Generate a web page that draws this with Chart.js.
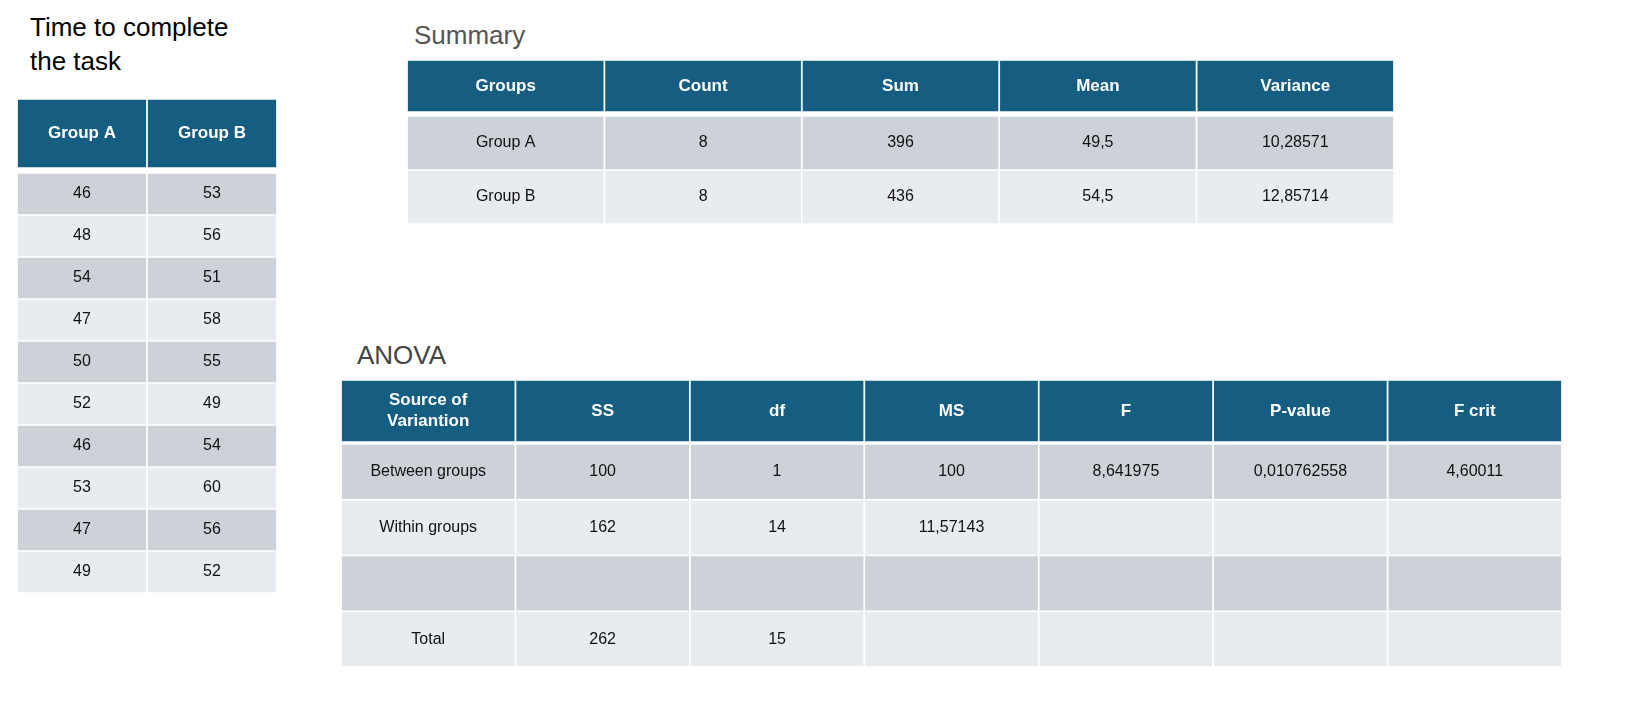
<!DOCTYPE html>
<html>
<head>
<meta charset="utf-8">
<script src="https://cdn.jsdelivr.net/npm/chart.js@4"></script>
<style>
  body { margin: 0; width: 1644px; height: 706px; background: #fff; position: relative; overflow: hidden;
         font-family: 'Liberation Sans', Arial, sans-serif; }
  .title { position: absolute; font-size: 26px; line-height: 34px; }
  canvas { position: absolute; }
</style>
</head>
<body>
<div class="title" style="left:30px;top:10px;color:#000">Time to complete<br>the task</div>
<div class="title" style="left:414px;top:18px;color:#555">Summary</div>
<div class="title" style="left:357px;top:338px;color:#444">ANOVA</div>

<canvas id="rawHead" style="left:17px;top:99px" width="260" height="69"></canvas>
<canvas id="rawBody" style="left:17px;top:173px" width="260" height="420"></canvas>
<canvas id="sumHead" style="left:407px;top:60px" width="987" height="52"></canvas>
<canvas id="sumBody" style="left:407px;top:116px" width="987" height="108"></canvas>
<canvas id="anoHead" style="left:341px;top:380px" width="1221" height="62"></canvas>
<canvas id="anoBody" style="left:341px;top:444px" width="1221" height="223"></canvas>

<script>
// ---- 数据 ----
const rawCols = ['Group A', 'Group B'];
const groupA = ['46', '48', '54', '47', '50', '52', '46', '53', '47', '49'];
const groupB = ['53', '56', '51', '58', '55', '49', '54', '60', '56', '52'];

const sumCols = ['Groups', 'Count', 'Sum', 'Mean', 'Variance'];
const sumRows = [
  ['Group A', '8', '396', '49,5', '10,28571'],
  ['Group B', '8', '436', '54,5', '12,85714']
];

const anoCols = ['Source of\nVariantion', 'SS', 'df', 'MS', 'F', 'P-value', 'F crit'];
const anoRows = [
  ['Between groups', '100', '1', '100', '8,641975', '0,010762558', '4,60011'],
  ['Within groups', '162', '14', '11,57143', '', '', ''],
  ['', '', '', '', '', '', ''],
  ['Total', '262', '15', '', '', '', '']
];

// ---- 颜色 ----
const headColor = '#155e82';
const darkRow = '#cdd2d9';
const lightRow = '#e8ebef';

// 文字插件：按比例尺中心写入单元格文字
const cellText = {
  id: 'cellText',
  afterDatasetsDraw(chart, args, opts) {
    const { ctx, scales: { x, y } } = chart;
    ctx.save();
    ctx.fillStyle = opts.color;
    ctx.font = opts.font;
    ctx.textAlign = 'center';
    ctx.textBaseline = 'middle';
    opts.rows.forEach((row, r) => {
      row.forEach((txt, c) => {
        const lines = txt.split('\n');
        const cx = x.getPixelForValue(c);
        const cy = y.getPixelForValue(r + 0.5);
        lines.forEach((ln, i) => {
          ctx.fillText(ln, cx, cy + (i - (lines.length - 1) / 2) * opts.lineHeight);
        });
      });
    });
    ctx.restore();
  }
};

function makeTable(id, cols, rows, header) {
  const datasets = rows.map((row, r) => ({
    data: cols.map(() => [r, r + 1]),
    backgroundColor: header ? headColor : (r % 2 === 0 ? darkRow : lightRow),
    borderColor: '#ffffff',
    borderWidth: 1.2,
    borderSkipped: false,
    grouped: false,
    barPercentage: 1,
    categoryPercentage: 1
  }));
  return new Chart(document.getElementById(id), {
    type: 'bar',
    data: { labels: cols.map((c, i) => i), datasets },
    plugins: [cellText],
    options: {
      responsive: false,
      animation: false,
      layout: { padding: 0 },
      scales: {
        x: { display: false, offset: true },
        y: { display: false, min: 0, max: rows.length, reverse: true }
      },
      plugins: {
        legend: { display: false },
        tooltip: { enabled: false },
        cellText: {
          rows,
          color: header ? '#ffffff' : '#111111',
          font: header ? "bold 17px 'Liberation Sans', Arial" : "16px 'Liberation Sans', Arial",
          lineHeight: 21
        }
      }
    }
  });
}

makeTable('rawHead', rawCols, [rawCols], true);
makeTable('rawBody', rawCols, groupA.map((a, i) => [a, groupB[i]]), false);
makeTable('sumHead', sumCols, [sumCols], true);
makeTable('sumBody', sumCols, sumRows, false);
makeTable('anoHead', anoCols, [anoCols], true);
makeTable('anoBody', anoCols, anoRows, false);
</script>
</body>
</html>
